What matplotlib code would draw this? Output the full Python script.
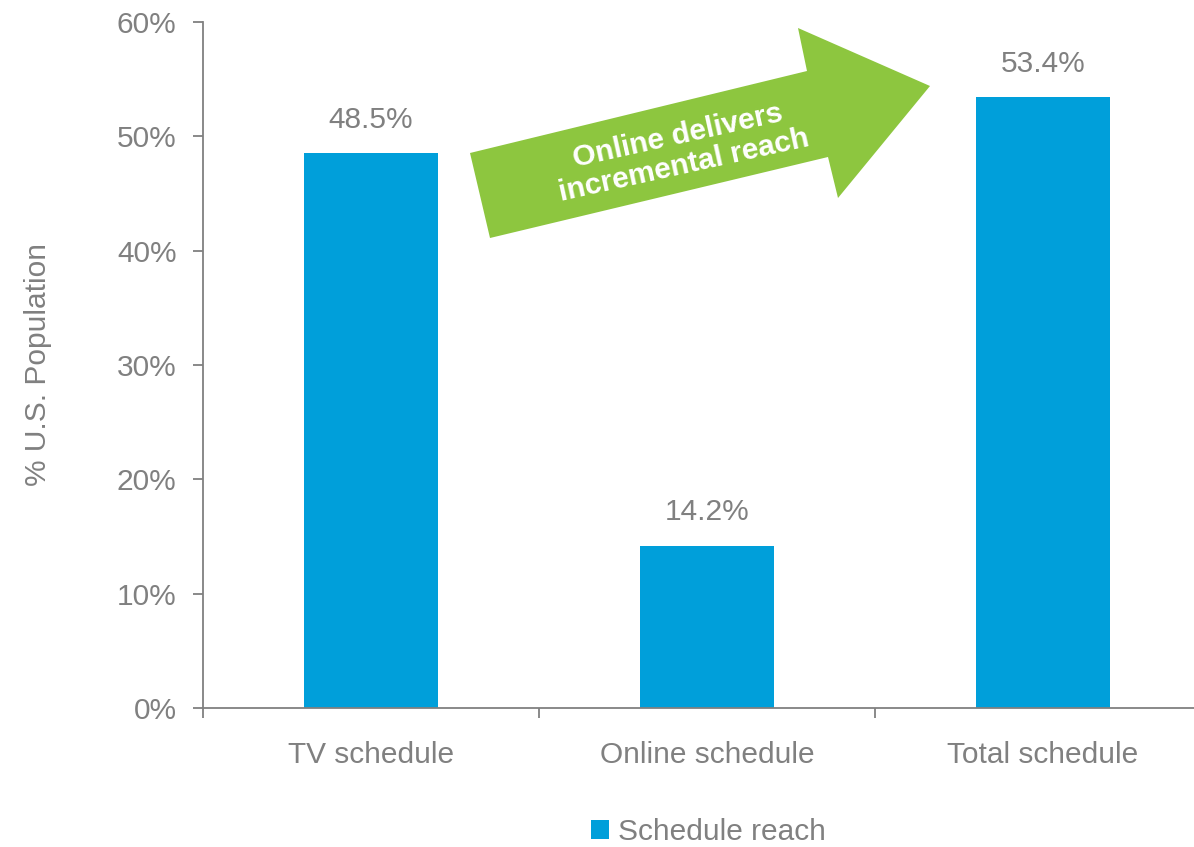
import matplotlib.pyplot as plt
from matplotlib.patches import Polygon

categories = ['TV schedule', 'Online schedule', 'Total schedule']
reach = [48.5, 14.2, 53.4]
yticks = [0, 10, 20, 30, 40, 50, 60]

plt.rcParams['font.family'] = ['Liberation Sans', 'DejaVu Sans']
gray = '#808080'
blue = '#009FDA'
green = '#8DC63F'
fs = 21.5

fig = plt.figure(figsize=(11.94, 8.47), dpi=100)
ax = fig.add_axes([203/1194, 139/847, 1008/1194, 686/847])

x = list(range(len(categories)))
bars = ax.bar(x, reach, width=0.4, color=blue, label='Schedule reach', zorder=2)

for xi, v in zip(x, reach):
    ax.annotate(f'{v:.1f}%', (xi, v), xytext=(0, 14), textcoords='offset points',
                ha='center', va='bottom', fontsize=fs, color=gray)

ax.set_xlim(-0.5, 2.5)
ax.set_ylim(0, 60)
ax.set_yticks(yticks)
ax.set_yticklabels([f'{t}%' for t in yticks], fontsize=fs, color=gray)
ax.set_xticks(x)
ax.set_xticklabels(categories, fontsize=fs, color=gray)
ax.tick_params(axis='x', length=0, pad=24)
ax.set_xticks([-0.5, 0.5, 1.5, 2.5], minor=True)
ax.tick_params(axis='x', which='minor', length=7, color=gray, width=1.3)
ax.tick_params(axis='y', length=7, color=gray, width=1.3, pad=12)
for s in ['top', 'right']:
    ax.spines[s].set_visible(False)
for s in ['left', 'bottom']:
    ax.spines[s].set_color(gray)
    ax.spines[s].set_linewidth(1.3)
ax.set_ylabel('% U.S. Population', fontsize=fs, color=gray, labelpad=47)

# green arrow callout (figure pixel coords)
pts = [(470, 153), (807, 71), (798, 28), (930, 86), (838, 198), (828, 157), (490, 238)]
pts = [(px / 1194, 1 - py / 847) for px, py in pts]
fig.patches.append(Polygon(pts, closed=True, transform=fig.transFigure,
                           facecolor=green, edgecolor='none', zorder=5))
fig.text(681/1194, 1 - 151/847, 'Online delivers\nincremental reach', rotation=12.5,
         ha='center', va='center', fontsize=21.5, fontweight='bold', color='white',
         linespacing=1.12, rotation_mode='anchor', zorder=6)

fig.legend(handles=[bars], labels=['Schedule reach'], loc='center',
           bbox_to_anchor=(708/1194, 1 - 832/847), frameon=False, fontsize=fs,
           labelcolor=gray, handlelength=0.6, handleheight=0.6, handletextpad=0.3)

fig.savefig('out.png', dpi=100)
